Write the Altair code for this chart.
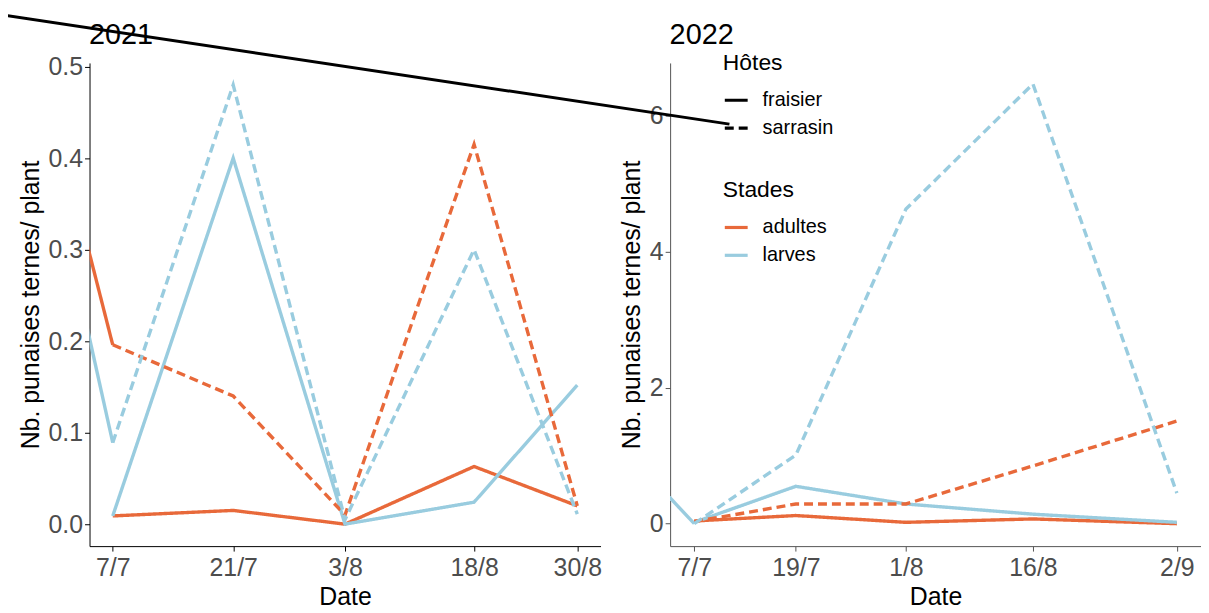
import json
import altair as alt
import pandas as pd

# ---------------- data ----------------
hotes = ["fraisier", "sarrasin"]
stades = ["adultes", "larves"]
couleurs = ["#E8693A", "#99CCDF"]
tirets = [[1, 0], [9, 5]]

dates_2021 = ["2021-07-07", "2021-07-21", "2021-08-03", "2021-08-18", "2021-08-30"]
etiquettes_2021 = ["7/7", "21/7", "3/8", "18/8", "30/8"]
fraisier_adultes_2021 = [0.009, 0.015, 0.0, 0.063, 0.02]
fraisier_larves_2021 = [0.009, 0.40, 0.0, 0.024, 0.152]
sarrasin_adultes_2021 = [0.196, 0.14, 0.01, 0.415, 0.02]
sarrasin_larves_2021 = [0.089, 0.48, 0.005, 0.30, 0.011]
# earlier survey (outside the visible window) feeding the clipped lead-in segments
date_avant_2021 = "2021-06-30"
avant_adultes_2021 = 0.454
avant_larves_2021 = 0.385

dates_2022 = ["2022-07-07", "2022-07-19", "2022-08-01", "2022-08-16", "2022-09-02"]
etiquettes_2022 = ["7/7", "19/7", "1/8", "16/8", "2/9"]
fraisier_adultes_2022 = [0.04, 0.12, 0.02, 0.07, 0.0]
fraisier_larves_2022 = [0.02, 0.55, 0.29, 0.14, 0.02]
sarrasin_adultes_2022 = [0.03, 0.29, 0.29, 0.85, 1.51]
sarrasin_larves_2022 = [0.0, 1.01, 4.63, 6.47, 0.45]
date_avant_2022 = "2022-06-30"
avant_larves_2022 = 0.93

# stray legend-key stroke of the original figure (in 2022 data space)
trait_dates = ["2022-04-16T02:24:00", "2022-07-11T03:46:00"]
trait_valeurs = [7.49, 5.88]

ticks_y_2021 = [0.0, 0.1, 0.2, 0.3, 0.4, 0.5]
ticks_y_2022 = [0, 2, 4, 6]
domaine_y_2021 = [-0.024, 0.504]
domaine_y_2022 = [-0.33, 6.78]

FONT = "Liberation Sans"


def ms(s):
    return int(pd.Timestamp(s, tz="UTC").value // 10**6)


def table(dates, series):
    rows = []
    for (hote, stade), vals in series.items():
        for d, v in zip(dates, vals):
            rows.append({"date": ms(d), "valeur": v, "hote": hote, "stade": stade,
                         "serie": hote + "-" + stade})
    return pd.DataFrame(rows)


def lead(date_avant, date_debut, pairs):
    rows = []
    for stade, (v0, v1) in pairs.items():
        rows.append({"date": ms(date_avant), "valeur": v0, "stade": stade, "serie": stade})
        rows.append({"date": ms(date_debut), "valeur": v1, "stade": stade, "serie": stade})
    return pd.DataFrame(rows)


def x_domain(dates):
    a, b = ms(dates[0]), ms(dates[-1])
    e = (b - a) * 0.05
    return [a - e, b + e]


color_enc_legend = alt.Legend(
    title="Stades", orient="none", legendX=637, legendY=117, padding=0,
    titleFontSize=23, titleFontWeight="normal", titleColor="black", titleFont=FONT,
    labelFontSize=20, labelColor="black", labelFont=FONT, symbolType="stroke",
    symbolSize=529, symbolStrokeWidth=3.2, titlePadding=12, rowPadding=4, labelOffset=13,
)
dash_legend = alt.Legend(
    title="Hôtes", orient="none", legendX=637, legendY=-11, padding=0,
    titleFontSize=23, titleFontWeight="normal", titleColor="black", titleFont=FONT,
    labelFontSize=20, labelColor="black", labelFont=FONT, symbolType="stroke",
    symbolSize=529, symbolStrokeWidth=3.2, symbolStrokeColor="black",
    titlePadding=12, rowPadding=4, labelOffset=13,
)


def panel(annee, dates, etiquettes, series, leads, date_avant, ticks_y, dom_y, fmt_y,
          width, axis_col, trait=None):
    ticks_ms = [ms(d) for d in dates]
    label_expr = (f"{json.dumps(etiquettes)}"
                  f"[indexof({json.dumps(ticks_ms)}, time(datum.value))]")
    xscale = alt.Scale(type="utc", domain=x_domain(dates), nice=False)
    yscale = alt.Scale(domain=dom_y, nice=False, zero=False)
    yaxis = alt.Axis(values=ticks_y, format=fmt_y, title="Nb. punaises ternes/ plant",
                     grid=False, labelFontSize=25, labelColor="#4D4D4D", labelFont=FONT,
                     titleFontSize=25, titleColor="black", titleFontWeight="normal",
                     titleFont=FONT, tickSize=5, labelPadding=2, titlePadding=5,
                     domainColor=axis_col, tickColor=axis_col)
    xaxis = alt.Axis(orient="bottom", values=ticks_ms, labelExpr=label_expr, title="Date",
                     grid=False, labelFontSize=25, labelColor="#4D4D4D", labelFont=FONT,
                     titleFontSize=25, titleColor="black", titleFontWeight="normal",
                     titleFont=FONT, tickSize=5, labelPadding=5, titlePadding=4,
                     labelFlush=False, labelOverlap=False,
                     domainColor=axis_col, tickColor=axis_col)
    title_axis = alt.Axis(orient="top", title=annee, labels=False, ticks=False,
                          domain=False, grid=False, titleFontSize=29,
                          titleFontWeight="normal", titleColor="black", titleFont=FONT,
                          titleAnchor="start", titleAlign="left", titleAngle=0,
                          titleX=-1, titleY=-20, titleBaseline="alphabetic")
    color = alt.Color("stade:N", scale=alt.Scale(domain=stades, range=couleurs),
                      legend=color_enc_legend)

    df = table(dates, series)
    dl = lead(date_avant, dates[0], leads)

    lead_layer = alt.Chart(dl).mark_line(clip=True, strokeWidth=3.4).encode(
        x=alt.X("date:T", scale=xscale, axis=title_axis),
        y=alt.Y("valeur:Q", scale=yscale, axis=yaxis),
        color=color,
        detail="serie:N",
    )
    main = alt.Chart(df).mark_line(clip=True, strokeWidth=3.4).encode(
        x=alt.X("date:T", scale=xscale, axis=xaxis),
        y=alt.Y("valeur:Q", scale=yscale, axis=yaxis),
        color=color,
        strokeDash=alt.StrokeDash("hote:N",
                                  scale=alt.Scale(domain=hotes, range=tirets),
                                  legend=dash_legend),
        detail="serie:N",
    )
    layers = [lead_layer, main]
    if trait is not None:
        dt = pd.DataFrame({"date": [ms(d) for d in trait[0]], "valeur": trait[1]})
        layers.append(alt.Chart(dt).mark_line(clip=False, strokeWidth=3,
                                              color="black").encode(
            x=alt.X("date:T", scale=xscale, axis=None),
            y=alt.Y("valeur:Q", scale=yscale, axis=yaxis),
        ))
    return alt.layer(*layers).resolve_axis(x="independent").properties(
        width=width, height=486)


p2021 = panel(
    "2021", dates_2021, etiquettes_2021,
    {("fraisier", "adultes"): fraisier_adultes_2021,
     ("fraisier", "larves"): fraisier_larves_2021,
     ("sarrasin", "adultes"): sarrasin_adultes_2021,
     ("sarrasin", "larves"): sarrasin_larves_2021},
    {"adultes": (avant_adultes_2021, sarrasin_adultes_2021[0]),
     "larves": (avant_larves_2021, sarrasin_larves_2021[0])},
    date_avant_2021, ticks_y_2021, domaine_y_2021, ".1f", 514, "black",
)
p2022 = panel(
    "2022", dates_2022, etiquettes_2022,
    {("fraisier", "adultes"): fraisier_adultes_2022,
     ("fraisier", "larves"): fraisier_larves_2022,
     ("sarrasin", "adultes"): sarrasin_adultes_2022,
     ("sarrasin", "larves"): sarrasin_larves_2022},
    {"larves": (avant_larves_2022, sarrasin_larves_2022[0])},
    date_avant_2022, ticks_y_2022, domaine_y_2022, "d", 534, "#555555",
    trait=(trait_dates, trait_valeurs),
)

chart = alt.hconcat(p2021, p2022, spacing=70, bounds="flush").properties(
    padding={"left": -14, "top": -1.5, "right": 0, "bottom": 0},
    background="white",
).configure(font=FONT).configure_view(stroke=None)

chart.save("out.html", embed_options={"renderer": "svg", "actions": False})
